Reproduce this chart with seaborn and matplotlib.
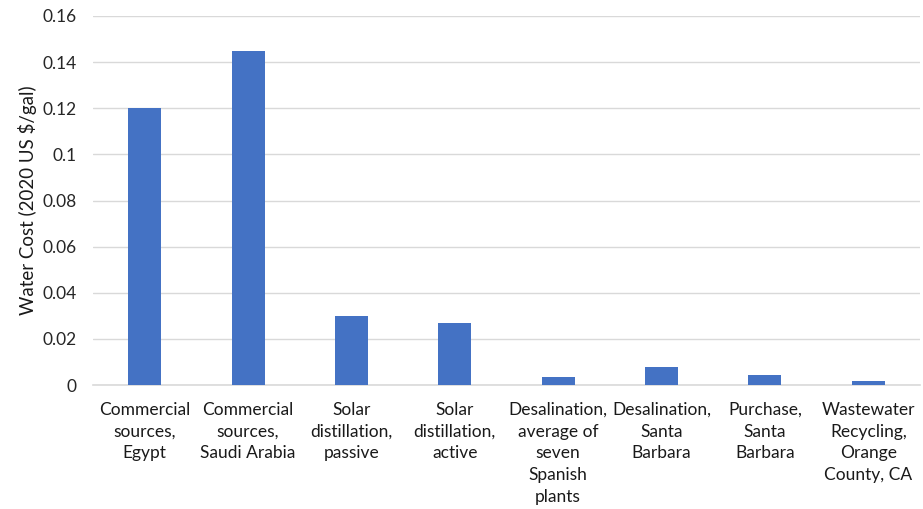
import matplotlib
matplotlib.use("Agg")
import matplotlib.pyplot as plt
import seaborn as sns
import pandas as pd

categories = [
    "Commercial\nsources,\nEgypt",
    "Commercial\nsources,\nSaudi Arabia",
    "Solar\ndistillation,\npassive",
    "Solar\ndistillation,\nactive",
    "Desalination,\naverage of\nseven\nSpanish\nplants",
    "Desalination,\nSanta\nBarbara",
    "Purchase,\nSanta\nBarbara",
    "Wastewater\nRecycling,\nOrange\nCounty, CA",
]
water_cost = [0.12, 0.145, 0.030, 0.027, 0.0036, 0.0077, 0.0043, 0.0017]
y_ticks = [0, 0.02, 0.04, 0.06, 0.08, 0.1, 0.12, 0.14, 0.16]
y_tick_labels = ["0", "0.02", "0.04", "0.06", "0.08", "0.1", "0.12", "0.14", "0.16"]

df = pd.DataFrame({"category": categories, "cost": water_cost})

sns.set_theme(style="white")
plt.rcParams["font.family"] = ["Lato", "DejaVu Sans"]

fig = plt.figure(figsize=(9.23, 5.09), dpi=100)
ax = fig.add_axes([93 / 923, 1 - 385 / 509, 827 / 923, 369 / 509])

sns.barplot(data=df, x="category", y="cost", color="#4472C4", width=0.32,
            saturation=1, linewidth=0, ax=ax, zorder=3)

ax.set_ylim(0, 0.16)
ax.set_yticks(y_ticks)
ax.set_yticklabels(y_tick_labels, fontsize=12.5, color="#262626")
ax.yaxis.grid(True, color="#D9D9D9", linewidth=1, zorder=0)
ax.set_axisbelow(True)
ax.tick_params(axis="x", length=0, pad=12)
for lbl in ax.get_xticklabels():
    lbl.set_fontsize(12.5)
    lbl.set_color("#1a1a1a")
    lbl.set_linespacing(1.45)
ax.tick_params(axis="y", length=0, pad=12)
ax.set_xlabel("")
ax.set_ylabel("Water Cost (2020 US $/gal)", fontsize=13.5, labelpad=4, color="#1a1a1a")

for side in ["top", "right", "left"]:
    ax.spines[side].set_visible(False)
ax.spines["bottom"].set_color("#D9D9D9")
ax.spines["bottom"].set_linewidth(1.2)

fig.savefig("out.png", dpi=100)
